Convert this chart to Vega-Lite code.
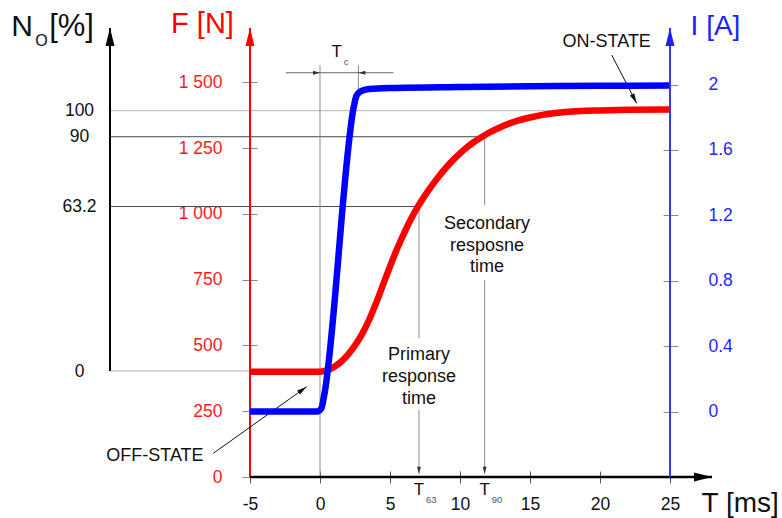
{
  "$schema": "https://vega.github.io/schema/vega-lite/v6.json",
  "width": 602,
  "height": 449,
  "autosize": {"type": "none"},
  "padding": {"left": 110, "top": 28, "right": 70, "bottom": 41},
  "background": "#ffffff",
  "config": {
    "view": {"stroke": null},
    "axis": {"grid": false, "labelFont": "Liberation Sans", "titleFont": "Liberation Sans", "titleFontWeight": "normal", "labelFontSize": 17.5, "labelFlush": false, "labelOverlap": false},
    "text": {"font": "Liberation Sans"}
  },
  "datasets": {
    "force": [
      {"t": -5, "f": 400}, {"t": 0, "f": 400}, {"t": 0.5, "f": 405}, {"t": 1, "f": 418}, {"t": 1.5, "f": 438},
      {"t": 2, "f": 465}, {"t": 2.5, "f": 500}, {"t": 3, "f": 543}, {"t": 3.5, "f": 596}, {"t": 4, "f": 660},
      {"t": 4.5, "f": 730}, {"t": 5, "f": 800}, {"t": 5.5, "f": 866}, {"t": 6, "f": 926}, {"t": 6.5, "f": 980},
      {"t": 7, "f": 1028}, {"t": 7.5, "f": 1070}, {"t": 8, "f": 1108}, {"t": 8.5, "f": 1143}, {"t": 9, "f": 1175},
      {"t": 9.5, "f": 1204}, {"t": 10, "f": 1230}, {"t": 10.5, "f": 1253}, {"t": 11, "f": 1273}, {"t": 11.5, "f": 1290},
      {"t": 12, "f": 1306}, {"t": 13, "f": 1332}, {"t": 14, "f": 1352}, {"t": 15, "f": 1366}, {"t": 16, "f": 1377},
      {"t": 17, "f": 1384}, {"t": 18, "f": 1389}, {"t": 20, "f": 1393}, {"t": 22, "f": 1395}, {"t": 25, "f": 1396}
    ],
    "current": [
      {"t": -5, "i": 0}, {"t": -0.2, "i": 0}, {"t": 0.1, "i": 0.02}, {"t": 0.3, "i": 0.1}, {"t": 2.45, "i": 1.88},
      {"t": 2.6, "i": 1.93}, {"t": 2.9, "i": 1.958}, {"t": 3.5, "i": 1.972}, {"t": 5, "i": 1.979}, {"t": 10, "i": 1.985},
      {"t": 15, "i": 1.989}, {"t": 20, "i": 1.992}, {"t": 25, "i": 1.994}
    ],
    "levelsLight": [{"n": 0, "t": -15, "t2": -5}, {"n": 100, "t": -15, "t2": 25}],
    "levelsDark": [{"n": 63.2, "t": -15, "t2": 7.07}, {"n": 90, "t": -15, "t2": 11.76}],
    "markers": [
      {"t": 0, "f": 0, "f2": 1565}, {"t": 2.74, "f": 1440, "f2": 1565},
      {"t": 7.07, "f": 1028, "f2": 528}, {"t": 7.07, "f": 255, "f2": 12},
      {"t": 11.76, "f": 1295, "f2": 1033}, {"t": 11.76, "f": 748, "f2": 12}
    ],
    "tcSpan": [{"t": -2.43, "t2": 5.24, "f": 1536}],
    "pointers": [
      {"t": -7.62, "f": 90, "t2": -0.95, "f2": 343},
      {"t": 20.84, "f": 1603, "t2": 22.62, "f2": 1420}
    ],
    "notes": [
      {"t": 20.48, "f": 1635, "label": "ON-STATE"},
      {"t": -11.79, "f": 61, "label": "OFF-STATE"},
      {"t": 7.07, "f": 444, "label": "Primary\nresponse\ntime"},
      {"t": 11.93, "f": 942, "label": "Secondary\nresposne\ntime"}
    ],
    "timeMarks": [
      {"t": 1.19, "f": 1597, "main": "T", "sub": "c"},
      {"t": 7.07, "f": -68, "main": "T", "sub": "63"},
      {"t": 11.76, "f": -68, "main": "T", "sub": "90"}
    ]
  },
  "encoding": {
    "x": {
      "field": "t", "type": "quantitative",
      "scale": {"domain": [-15, 28], "nice": false, "zero": false},
      "axis": {
        "values": [-5, 0, 5, 10, 15, 20, 25], "labelExpr": "'' + datum.value", "domain": false, "offset": -6,
        "tickSize": 12, "tickColor": "#555555", "tickWidth": 1,
        "labelColor": "#111111", "labelPadding": 12,
        "title": "T [ms]", "titleFontSize": 28, "titleColor": "#111111",
        "titleX": 591, "titleY": 40, "titleAlign": "left", "titleBaseline": "alphabetic", "titleAnchor": null
      }
    }
  },
  "layer": [
    {
      "encoding": {
        "y": {
          "field": "n", "type": "quantitative",
          "scale": {"domain": [-40.72, 131.77], "nice": false, "zero": false},
          "axis": {
            "orient": "left", "offset": 0, "values": [0, 63.2, 90, 100], "labelExpr": "'' + datum.value",
            "domain": false, "ticks": false, "tickSize": 0, "labelAlign": "center", "labelPadding": 31,
            "labelColor": "#111111", "title": null
          }
        }
      },
      "layer": [
        {"data": {"name": "levelsLight"}, "mark": {"type": "rule", "color": "#b4b4b4", "strokeWidth": 1}, "encoding": {"x2": {"field": "t2"}}},
        {"data": {"name": "levelsDark"}, "mark": {"type": "rule", "color": "#4a4a4a", "strokeWidth": 1}, "encoding": {"x2": {"field": "t2"}}},
        {"data": {"values": [{"t": -15, "n": 0, "n2": 131.77}]}, "mark": {"type": "rule", "color": "#000000", "strokeWidth": 2}, "encoding": {"y2": {"field": "n2"}}},
        {"data": {"values": [{"t": -15, "n": 131.77}]}, "mark": {"type": "point", "shape": "M0,0L-0.5,2L0.5,2Z", "size": 324, "filled": true, "opacity": 1, "color": "#000000", "strokeWidth": 0}, "encoding": {}}
      ]
    },
    {
      "encoding": {
        "y": {
          "field": "f", "type": "quantitative",
          "scale": {"domain": [0, 1706], "nice": false, "zero": false},
          "axis": {
            "orient": "left", "offset": -147, "values": [0, 250, 500, 750, 1000, 1250, 1500],
            "labelExpr": "replace(format(datum.value, ','), ',', ' ')",
            "domain": false, "tickSize": 15, "tickColor": "#8a8a8a", "tickWidth": 1,
            "labelColor": "#ff1a1a", "labelPadding": 20,
            "title": "F [N]", "titleColor": "#ff0000", "titleFontSize": 29, "titleAngle": 0,
            "titleX": -55, "titleY": 4.5, "titleAlign": "center", "titleBaseline": "alphabetic", "titleAnchor": null
          }
        }
      },
      "layer": [
        {"data": {"name": "markers"}, "mark": {"type": "rule", "color": "#8c8c8c", "strokeWidth": 1}, "encoding": {"y2": {"field": "f2"}}},
        {"data": {"name": "tcSpan"}, "mark": {"type": "rule", "color": "#666666", "strokeWidth": 1}, "encoding": {"x2": {"field": "t2"}}},
        {"data": {"values": [{"t": 0, "f": 1536}]}, "mark": {"type": "point", "shape": "M0,0L-0.55,2L0.55,2Z", "size": 49, "angle": 90, "filled": true, "opacity": 1, "color": "#333333", "strokeWidth": 0}, "encoding": {}},
        {"data": {"values": [{"t": 2.74, "f": 1536}]}, "mark": {"type": "point", "shape": "M0,0L-0.55,2L0.55,2Z", "size": 49, "angle": 270, "filled": true, "opacity": 1, "color": "#333333", "strokeWidth": 0}, "encoding": {}},
        {"data": {"values": [{"t": 7.07, "f": 12}, {"t": 11.76, "f": 12}]}, "mark": {"type": "point", "shape": "M0,0L-0.55,2L0.55,2Z", "size": 49, "angle": 180, "filled": true, "opacity": 1, "color": "#333333", "strokeWidth": 0}, "encoding": {}},
        {"data": {"name": "force"}, "mark": {"type": "line", "color": "#ff0000", "strokeWidth": 6.5, "interpolate": "monotone", "strokeCap": "butt"}, "encoding": {}},
        {"data": {"values": [{"t": -5, "f": 0, "f2": 1706}]}, "mark": {"type": "rule", "color": "#ff0000", "strokeWidth": 2}, "encoding": {"y2": {"field": "f2"}}},
        {"data": {"values": [{"t": -5, "f": 1706}]}, "mark": {"type": "point", "shape": "M0,0L-0.5,2L0.5,2Z", "size": 324, "filled": true, "opacity": 1, "color": "#ff0000", "strokeWidth": 0}, "encoding": {}},
        {"data": {"values": [{"t": -5, "t2": 28, "f": 0}]}, "mark": {"type": "rule", "color": "#000000", "strokeWidth": 2.5}, "encoding": {"x2": {"field": "t2"}}},
        {"data": {"values": [{"t": 28, "f": 0}]}, "mark": {"type": "point", "shape": "M0,0L-0.5,2L0.5,2Z", "size": 324, "angle": 90, "filled": true, "opacity": 1, "color": "#000000", "strokeWidth": 0}, "encoding": {}},
        {"data": {"name": "pointers"}, "mark": {"type": "rule", "color": "#111111", "strokeWidth": 1}, "encoding": {"x2": {"field": "t2"}, "y2": {"field": "f2"}}},
        {"data": {"values": [{"t": 22.62, "f": 1420}]}, "mark": {"type": "point", "shape": "M0,0L-0.5,2L0.5,2Z", "size": 100, "angle": 152.6, "filled": true, "opacity": 1, "color": "#111111", "strokeWidth": 0}, "encoding": {}},
        {"data": {"values": [{"t": -0.95, "f": 343}]}, "mark": {"type": "point", "shape": "M0,0L-0.5,2L0.5,2Z", "size": 100, "angle": 54.5, "filled": true, "opacity": 1, "color": "#111111", "strokeWidth": 0}, "encoding": {}},
        {"data": {"name": "notes"}, "mark": {"type": "text", "fontSize": 18, "align": "center", "baseline": "alphabetic", "lineBreak": "\n", "lineHeight": 21.7, "color": "#111111"}, "encoding": {"text": {"field": "label"}}},
        {"data": {"name": "timeMarks"}, "mark": {"type": "text", "fontSize": 17, "align": "center", "baseline": "alphabetic", "color": "#111111"}, "encoding": {"text": {"field": "main"}}},
        {"data": {"name": "timeMarks"}, "mark": {"type": "text", "fontSize": 9.5, "align": "left", "baseline": "alphabetic", "dx": 7, "dy": 8, "color": "#555555"}, "encoding": {"text": {"field": "sub"}}},
        {"data": {"values": [{"t": -22.06, "f": 1675.6}]}, "mark": {"type": "text", "text": "N", "fontSize": 30, "align": "left", "baseline": "alphabetic", "color": "#111111"}, "encoding": {}},
        {"data": {"values": [{"t": -22.06, "f": 1675.6}]}, "mark": {"type": "text", "text": "O", "fontSize": 16, "align": "left", "baseline": "alphabetic", "dx": 24, "dy": 10, "color": "#111111"}, "encoding": {}},
        {"data": {"values": [{"t": -22.06, "f": 1675.6}]}, "mark": {"type": "text", "text": "[%]", "fontSize": 31, "align": "left", "baseline": "alphabetic", "dx": 38, "color": "#111111"}, "encoding": {}}
      ]
    },
    {
      "encoding": {
        "y": {
          "field": "i", "type": "quantitative",
          "scale": {"domain": [-0.4, 2.3456], "nice": false, "zero": false},
          "axis": {
            "orient": "right", "offset": -49, "values": [0, 0.4, 0.8, 1.2, 1.6, 2], "format": "~g",
            "domain": false, "tickSize": 15, "tickColor": "#8a8a8a", "tickWidth": 1,
            "labelColor": "#2424ff", "labelPadding": 30,
            "title": "I [A]", "titleColor": "#2020ff", "titleFontSize": 28, "titleAngle": 0,
            "titleX": 52, "titleY": 6, "titleAlign": "center", "titleBaseline": "alphabetic", "titleAnchor": null
          }
        }
      },
      "layer": [
        {"data": {"name": "current"}, "mark": {"type": "line", "color": "#0000ff", "strokeWidth": 6.5, "interpolate": "monotone", "strokeCap": "butt"}, "encoding": {}},
        {"data": {"values": [{"t": 25, "i": -0.4, "i2": 2.3456}]}, "mark": {"type": "rule", "color": "#3535ff", "strokeWidth": 2}, "encoding": {"y2": {"field": "i2"}}},
        {"data": {"values": [{"t": 25, "i": 2.3456}]}, "mark": {"type": "point", "shape": "M0,0L-0.5,2L0.5,2Z", "size": 324, "filled": true, "opacity": 1, "color": "#1f1fff", "strokeWidth": 0}, "encoding": {}}
      ]
    }
  ],
  "resolve": {"scale": {"y": "independent"}}
}
